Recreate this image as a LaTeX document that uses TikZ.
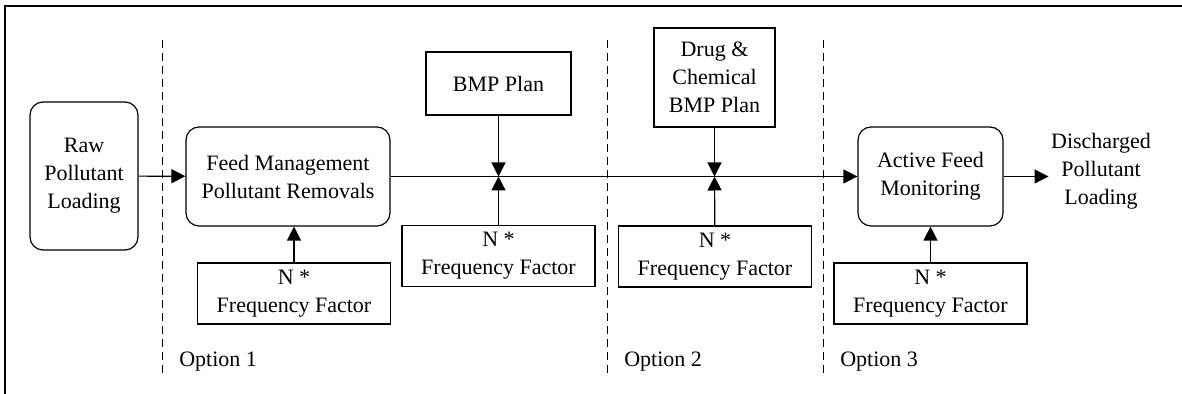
\documentclass[tikz,border=0pt]{standalone}
\usepackage{fontspec}
\setmainfont{Liberation Serif}
\usetikzlibrary{arrows.meta,positioning}

\begin{document}
\begin{tikzpicture}[x=0.5pt,y=-0.5pt,
  font=\fontsize{11}{14}\selectfont,
  line width=0.6pt,
  rbox/.style={draw,rounded corners=6.5pt,align=center,inner sep=2pt},
  sbox/.style={draw,align=center,inner sep=2pt},
  ffbox/.style={sbox,minimum width=96.5pt,minimum height=30.5pt},
  sep/.style={dash pattern=on 4pt off 2.5pt,line width=0.5pt},
  ar/.style={-{Triangle[length=7pt,width=7pt]}}]
\useasboundingbox (0,0) rectangle (1182,394);
\draw[line width=1pt] (5,394) -- (5,6) -- (1182,6);
% option separators
\foreach \xs in {162,607,823}
  \draw[sep] (\xs,40) -- (\xs,374);
\node[anchor=west] (opt1) at (172,362) {Option 1};
\node[anchor=west] (opt2) at (617,362) {Option 2};
\node[anchor=west] (opt3) at (833,362) {Option 3};
% main chain
\node[rbox,minimum width=54pt,minimum height=74pt] (raw) at (84,176) {Raw\\Pollutant\\Loading};
\node[rbox,minimum width=102pt,minimum height=49.5pt] (fm) at (288,176.5) {Feed Management\\Pollutant Removals};
\node[rbox,minimum width=72.5pt,minimum height=49.5pt] (af) at (930.5,176.5) {Active Feed\\Monitoring};
\node[align=center,inner sep=1pt] (out) at (1101,171) {Discharged\\Pollutant\\Loading};
\coordinate (j1) at (498.5,176.5);
\coordinate (j2) at (714.5,176.5);
% plans
\node[sbox,minimum width=72.5pt,minimum height=31.5pt] (bmp) at (498.5,83.5) {BMP Plan};
\node[sbox,minimum width=60.5pt,minimum height=49.5pt] (drug) at (714.5,77.5) {Drug \&\\Chemical\\BMP Plan};
% frequency factors
\node[ffbox] (ff1) at (294,293.5) {N *\\Frequency Factor};
\node[ffbox] (ff2) at (498.5,256) {N *\\Frequency Factor};
\node[ffbox] (ff3) at (715,256.5) {N *\\Frequency Factor};
\node[ffbox] (ff4) at (930.5,293.5) {N *\\Frequency Factor};
% connectors
\draw[ar] (raw) -- (fm);
\draw[ar] (fm) -- (af);
\draw[ar] (af) -- (af.east -| out.west);
\draw[ar] (bmp) -- (j1);
\draw[ar] (ff2) -- (j1);
\draw[ar] (drug) -- (j2);
\draw[ar] (ff3) -- (j2);
\draw[ar] (ff1.north) -- (ff1.north |- fm.south);
\draw[ar] (ff4) -- (af);
\end{tikzpicture}
\end{document}
